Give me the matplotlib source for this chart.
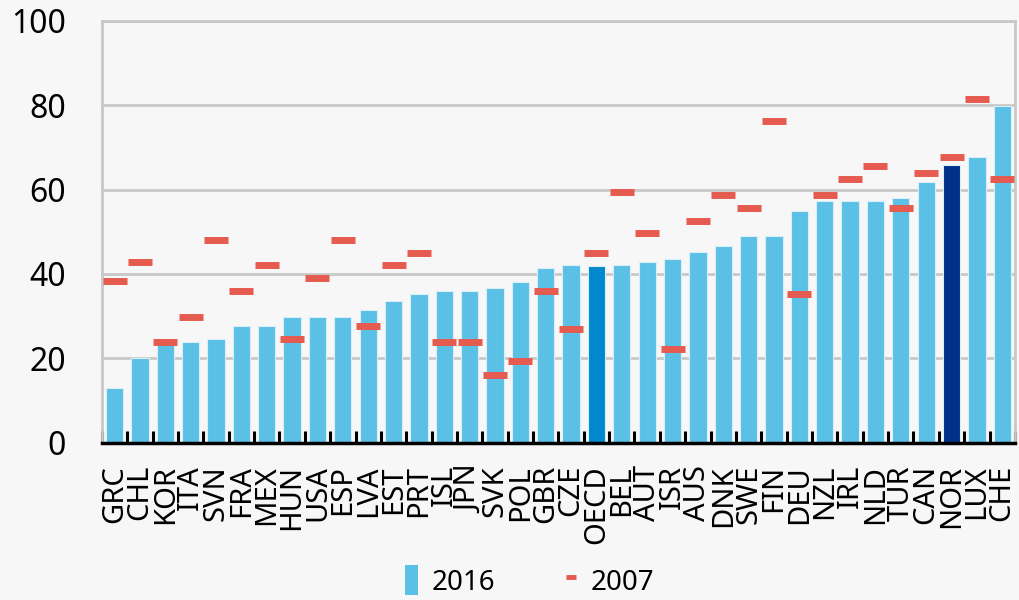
import matplotlib
matplotlib.use("Agg")
import matplotlib.pyplot as plt
from matplotlib.lines import Line2D
from matplotlib.patches import Patch
import numpy as np

countries = ["GRC", "CHL", "KOR", "ITA", "SVN", "FRA", "MEX", "HUN", "USA", "ESP",
             "LVA", "EST", "PRT", "ISL", "JPN", "SVK", "POL", "GBR", "CZE", "OECD",
             "BEL", "AUT", "ISR", "AUS", "DNK", "SWE", "FIN", "DEU", "NZL", "IRL",
             "NLD", "TUR", "CAN", "NOR", "LUX", "CHE"]
v2016 = [13.1, 20.0, 23.6, 23.8, 24.6, 27.6, 27.6, 29.9, 29.9, 29.9,
         31.4, 33.7, 35.2, 35.9, 35.9, 36.7, 38.2, 41.3, 42.1, 42.0,
         42.1, 42.8, 43.6, 45.1, 46.6, 48.9, 48.9, 55.0, 57.2, 57.2,
         57.2, 58.0, 61.8, 65.7, 67.8, 79.9]
v2007 = [38.4, 42.9, 23.9, 29.9, 48.1, 36.0, 42.2, 24.6, 39.1, 48.1,
         27.7, 42.2, 45.0, 23.9, 23.9, 16.1, 19.4, 36.0, 27.0, 45.0,
         59.5, 49.8, 22.3, 52.6, 58.8, 55.7, 76.3, 35.3, 58.8, 62.6,
         65.6, 55.7, 64.0, 67.8, 81.5, 62.6]

light = "#5bc0e6"
oecd_col = "#0089cc"
nor_col = "#003087"
red = "#e55b4f"
bg = "#f7f7f7"

plt.rcParams['font.family'] = ['Noto Sans', 'DejaVu Sans']

fig = plt.figure(figsize=(10.19, 6.0), dpi=100, facecolor=bg)
ax = fig.add_axes([0.1, 0.262, 0.896, 0.7035], facecolor=bg)

x = np.arange(len(countries))
colors = [oecd_col if c == "OECD" else nor_col if c == "NOR" else light for c in countries]
ax.bar(x, v2016, width=0.68, color=colors, edgecolor="#d8eef8", linewidth=0.8, zorder=2)
ax.plot(x, v2007, linestyle="none", marker="_", markersize=17.5, markeredgewidth=5,
        color=red, zorder=3)

ax.set_xlim(-0.5, len(countries) - 0.5)
ax.set_ylim(0, 100)
ax.set_yticks(np.arange(0, 101, 20))
ax.yaxis.grid(True, color="#c8c8c8", linewidth=2, zorder=0)
ax.set_axisbelow(True)

ax.set_xticks(x)
ax.set_xticklabels(countries, rotation=90, fontsize=21, va="top", ha="center")
ax.set_xticks(np.arange(-0.5, len(countries)), minor=True)
ax.tick_params(axis="x", which="major", length=0, pad=16)
ax.tick_params(axis="x", which="minor", direction="in", length=9, width=2.2, color="black")
ax.tick_params(axis="y", length=0, labelsize=23, pad=26)

for s in ["left", "top", "right"]:
    ax.spines[s].set_color("#c8c8c8")
    ax.spines[s].set_linewidth(2)
ax.spines["bottom"].set_color("black")
ax.spines["bottom"].set_linewidth(2.5)
ax.spines["bottom"].set_zorder(4)

handles = [Patch(facecolor=light, edgecolor="none"),
           Line2D([], [], linestyle="none", marker="_", markersize=7, markeredgewidth=3.5, color=red)]
leg = fig.legend(handles, ["2016", "2007"], loc="lower center", bbox_to_anchor=(0.52, -0.036),
                 ncol=2, frameon=False, fontsize=20, handlelength=0.45, handleheight=1.3,
                 columnspacing=2.5, handletextpad=0.5)

fig.savefig("out.png", dpi=100, facecolor=bg)
